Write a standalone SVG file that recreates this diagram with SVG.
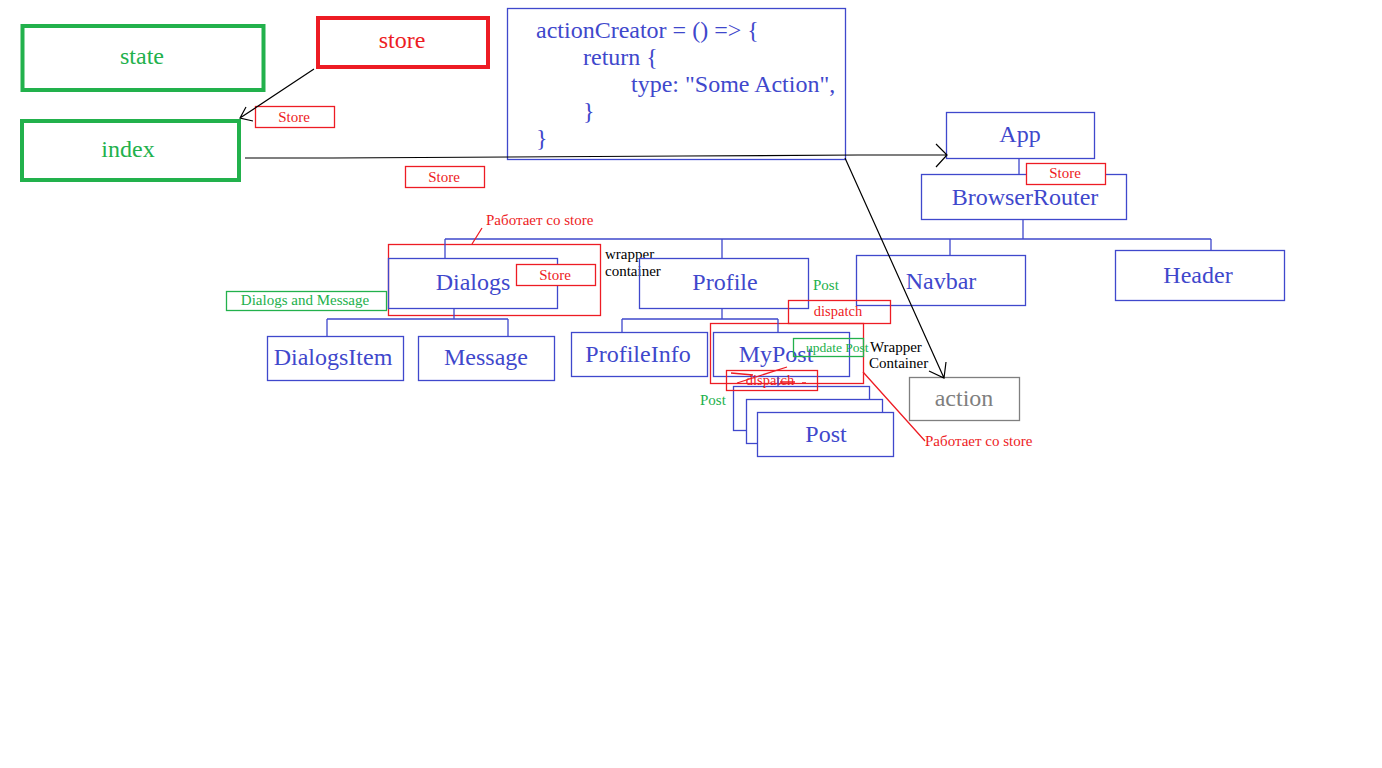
<svg xmlns="http://www.w3.org/2000/svg" width="1382" height="768" viewBox="0 0 1382 768">
<style>
text{font-family:"Liberation Serif","Times New Roman",serif}
.big{font-size:24px;text-anchor:middle;dominant-baseline:central}
.sm{font-size:15px}
.smc{font-size:15px;text-anchor:middle;dominant-baseline:central}
.b{fill:#fff;stroke:#3f48cc;stroke-width:1.3}
.bt{fill:#3f48cc}
.r{fill:#fff;stroke:#ed1c24;stroke-width:1.3}
.rn{fill:none;stroke:#ed1c24;stroke-width:1.3}
.rt{fill:#ed1c24}
.gt{fill:#22b14c}
.kt{fill:#000}
.tree{fill:none;stroke:#3f48cc;stroke-width:1.3}
.blk{fill:none;stroke:#000;stroke-width:1.2}
</style>
<rect width="1382" height="768" fill="#fff"/>

<g id="state"><rect x="22.5" y="26" width="241" height="64" fill="#fff" stroke="#22b14c" stroke-width="4"/><text class="big gt" x="142" y="56">state</text></g>
<g id="store"><rect x="318" y="18" width="170" height="49" fill="#fff" stroke="#ed1c24" stroke-width="4"/><text class="big rt" x="402" y="40">store</text></g>
<g id="index"><rect x="22" y="121" width="217" height="59" fill="#fff" stroke="#22b14c" stroke-width="4"/><text class="big gt" x="128" y="149">index</text></g>
<g id="store-label-1"><rect class="r" x="255.5" y="106.5" width="79" height="21"/><text class="smc rt" x="294" y="117">Store</text></g>
<g id="store-label-2"><rect class="r" x="405.5" y="166.5" width="79" height="21"/><text class="smc rt" x="444" y="177">Store</text></g>

<g id="actionCreator">
<rect x="507.5" y="8.5" width="338" height="151" fill="none" stroke="#3f48cc" stroke-width="1.3"/>
<g class="bt" style="font-size:24px">
<text x="536" y="38">actionCreator = () =&gt; {</text>
<text x="583" y="65">return {</text>
<text x="631" y="92">type: "Some Action",</text>
<text x="583" y="119">}</text>
<text x="536" y="146">}</text>
</g>
</g>

<g id="App"><rect class="b" x="946.5" y="112.5" width="148" height="46"/><text class="big bt" x="1020" y="134">App</text></g>
<g id="BrowserRouter"><rect class="b" x="921.5" y="174.5" width="205" height="45"/><text class="big bt" x="1025" y="197">BrowserRouter</text></g>
<g id="store-label-3"><rect class="r" x="1026.5" y="163.5" width="79" height="21"/><text class="smc rt" x="1065" y="173">Store</text></g>

<g id="Navbar"><rect class="b" x="856.5" y="255.5" width="169" height="50"/><text class="big bt" x="941" y="281">Navbar</text></g>
<g id="Header"><rect class="b" x="1115.5" y="250.5" width="169" height="50"/><text class="big bt" x="1198" y="275">Header</text></g>

<g id="Dialogs">
<rect class="rn" x="388.5" y="244.5" width="212" height="71"/>
<rect class="tree" x="388.5" y="258.5" width="169" height="50"/>
<text class="big bt" x="473" y="282">Dialogs</text>
<rect class="r" x="516.5" y="264.5" width="79" height="21"/><text class="smc rt" x="555" y="275">Store</text>
</g>
<g id="dialogs-working-label"><text class="sm rt" x="486" y="225">Работает со store</text></g>
<g id="wrapper-label-1"><text class="sm kt" x="605" y="259">wrapper</text><text class="sm kt" x="605" y="276">container</text></g>
<g id="dialogs-message-label"><rect x="226.5" y="291.5" width="160" height="19" fill="#fff" stroke="#22b14c" stroke-width="1.3"/><text class="smc gt" x="305" y="300">Dialogs and Message</text></g>

<g id="DialogsItem"><rect class="b" x="267.5" y="336.5" width="136" height="44"/><text class="big bt" x="333" y="357">DialogsItem</text></g>
<g id="Message"><rect class="b" x="418.5" y="336.5" width="136" height="44"/><text class="big bt" x="486" y="357">Message</text></g>

<g id="Profile"><rect class="tree" x="639.5" y="258.5" width="169" height="50"/><text class="big bt" x="725" y="282">Profile</text></g>
<g id="post-label-1"><text class="sm gt" x="813" y="290">Post</text></g>
<g id="dispatch-1"><rect class="rn" x="788.5" y="300.5" width="102" height="23"/><text class="smc rt" x="838" y="311" style="font-size:14.5px">dispatch</text></g>

<g id="ProfileInfo"><rect class="b" x="571.5" y="332.5" width="136" height="44"/><text class="big bt" x="638" y="354">ProfileInfo</text></g>
<g id="MyPost">
<rect class="rn" x="710.5" y="323.5" width="153" height="60"/>
<rect class="tree" x="713.5" y="332.5" width="136" height="44"/>
<text class="big bt" x="776" y="354">MyPost</text>
</g>
<g id="update-post"><rect x="793.5" y="338.5" width="70" height="18" fill="none" stroke="#22b14c" stroke-width="1.3"/><text class="gt" x="806" y="352" style="font-size:13.5px">update Post</text></g>
<g id="wrapper-label-2"><text class="sm kt" x="870" y="352">Wrapper</text><text class="sm kt" x="869" y="368">Container</text></g>

<g id="Post">
<rect class="b" x="733.5" y="386.5" width="136" height="44"/>
<rect class="b" x="746.5" y="399.5" width="136" height="44"/>
<rect class="b" x="757.5" y="412.5" width="136" height="44"/>
<text class="big bt" x="826" y="434">Post</text>
</g>
<g id="dispatch-2">
<rect class="rn" x="726.5" y="370.5" width="91" height="20"/>
<text class="smc rt" x="770" y="380" style="font-size:14.5px">dispatch</text>
<path class="rn" d="M731,373L753,375M737,383L787,367M780,382H795M802,383H806"/>
</g>
<g id="post-label-2"><text class="sm gt" x="700" y="405">Post</text></g>

<g id="action"><rect x="909.5" y="377.5" width="110" height="43" fill="#fff" stroke="#7f7f7f" stroke-width="1.3"/><text class="big" x="964" y="398" fill="#7f7f7f">action</text></g>
<g id="mypost-working-label"><text class="sm rt" x="925" y="446">Работает со store</text></g>

<g id="connectors">
<path class="tree" d="M1019,158V175M1023,219V239M445,239H1211M445,239V258M722,239V258M950,239V255M1211,239V250M454,308V319M327,319H508M327,319V336M508,319V336M722,308V319M622,319H778M622,319V332M778,319V332M778,376V386"/>
<path class="blk" d="M314,69L240,118M246,107L240,118L253,121"/>
<path class="blk" d="M245,158H333L683,156L858,155H946M936,144L947,155L936,167"/>
<path class="blk" d="M845,158L944,378M929,371L944,378L946,362"/>
<path class="rn" d="M482,228L472,244M863,372L925,441"/>
</g>
</svg>
